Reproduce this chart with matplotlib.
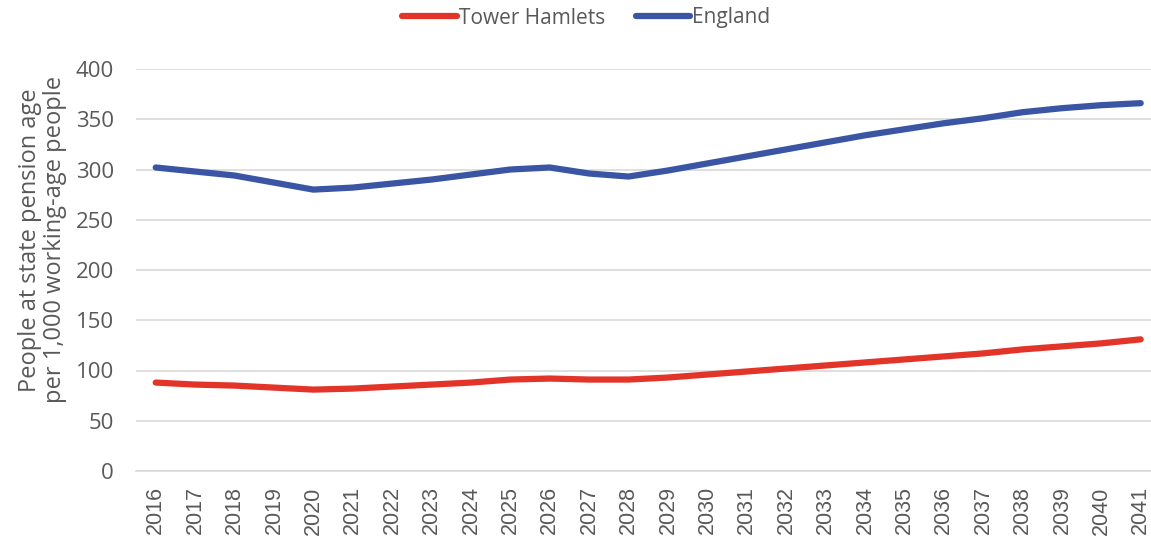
import matplotlib.pyplot as plt

years = list(range(2016, 2042))

tower_hamlets = [88, 86, 85, 83, 81, 82, 84, 86, 88, 91, 92, 91, 91,
                 93, 96, 99, 102, 105, 108, 111, 114, 117, 121, 124, 127, 131]
england = [302, 298, 294, 287, 280, 282, 286, 290, 295, 300, 302, 296, 293,
           299, 306, 313, 320, 327, 334, 340, 346, 351, 357, 361, 364, 366]

RED = "#E3342A"
BLUE = "#3B55A5"
GREY = "#595959"


def main():
    fig = plt.figure(figsize=(11.51, 5.41), dpi=100)
    # plot area in pixels: left 136, top 69, bottom 471
    ax = fig.add_axes([136 / 1151, (541 - 471) / 541, 1015 / 1151, 402 / 541])

    ax.plot(years, tower_hamlets, color=RED, lw=4.5, solid_capstyle="round",
            label="Tower Hamlets")
    ax.plot(years, england, color=BLUE, lw=4.5, solid_capstyle="round",
            label="England")

    ax.set_ylim(0, 400)
    ax.set_yticks(range(0, 401, 50))
    ax.set_xlim(2015.5, 2015.5 + 1015 / 39.4)
    ax.set_xticks(years)
    ax.set_xticklabels([str(y) for y in years], rotation=90,
                       fontsize=15.5, color=GREY, family="Liberation Sans")
    for lab in ax.get_yticklabels():
        lab.set_family("Open Sans")
        lab.set_fontsize(16)
        lab.set_color(GREY)

    ax.tick_params(axis="both", length=0)
    ax.tick_params(axis="x", pad=11)
    ax.tick_params(axis="y", pad=16)
    ax.grid(axis="y", color="#D9D9D9", lw=1.2)
    ax.set_axisbelow(True)
    for side in ["top", "right", "left"]:
        ax.spines[side].set_visible(False)
    ax.spines["bottom"].set_color("#D9D9D9")
    ax.spines["bottom"].set_linewidth(1.2)

    ax.set_ylabel("People at state pension age\nper 1,000 working-age people",
                  fontsize=17, color=GREY, family="Open Sans", linespacing=1.05)
    ax.yaxis.set_label_coords(-0.068, 0.575)

    fig.legend(loc="center", bbox_to_anchor=(0.5096, 1 - 18 / 541), ncol=2,
               frameon=False, handlelength=2.6, handletextpad=0.1,
               columnspacing=1.5,
               prop={"family": "Open Sans", "size": 15}, labelcolor=GREY)

    fig.savefig("out.png", dpi=100)


if __name__ == "__main__":
    main()
